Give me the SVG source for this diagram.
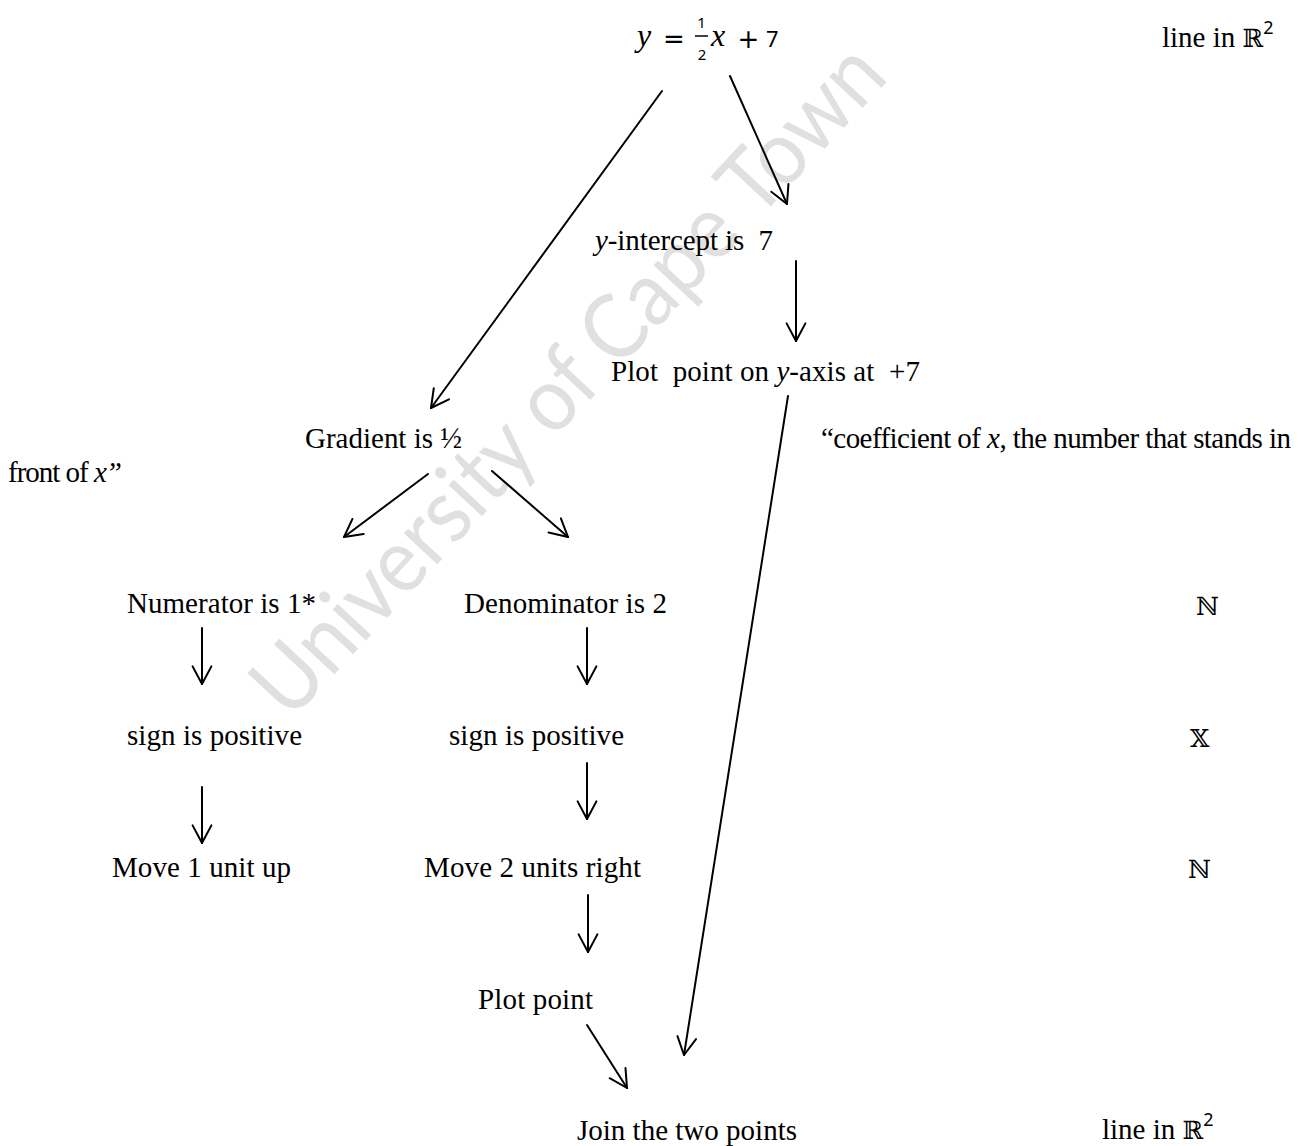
<svg xmlns="http://www.w3.org/2000/svg" width="1308" height="1146" viewBox="0 0 1308 1146">
<style>
.t{font-family:"Liberation Serif","Times New Roman",serif;font-size:29px;fill:#000;white-space:pre}
.i{font-style:italic}
.ds{font-family:"DejaVu Serif","DejaVu Sans",serif;font-size:25px;fill:#000}
.sup{font-family:"Noto Sans","Open Sans",sans-serif;font-size:18px;fill:#000}
.mi{font-family:"Liberation Serif",serif;font-style:italic;font-size:32px;fill:#000}
.mo{font-family:"DejaVu Sans",sans-serif;font-size:26px;fill:#000}
.md{font-family:"Noto Sans","Open Sans",sans-serif;fill:#000}
.wm{font-family:Lato,"Open Sans",sans-serif;font-size:90px;fill:#e0e0e0}
.c{stroke:#000;stroke-width:2;fill:none;stroke-linecap:round}
</style>
<defs>
<marker id="ah" markerUnits="userSpaceOnUse" markerWidth="24" markerHeight="24" viewBox="-20 -12 22 24" refX="0" refY="0" orient="auto">
<path d="M-17.6 -9.4 L0 0 L-17.6 9.4" fill="none" stroke="#000" stroke-width="2" stroke-linecap="round" stroke-linejoin="round"/>
</marker>
</defs>
<rect width="1308" height="1146" fill="#fff"/>
<g id="watermark">
<text class="wm" transform="translate(290 722) rotate(-47)" textLength="880" lengthAdjust="spacingAndGlyphs">University of Cape Town</text>
</g>
<g id="connectors">
<path class="c" marker-end="url(#ah)" d="M662 91 L431 408"/>
<path class="c" marker-end="url(#ah)" d="M730 76 L787 204"/>
<path class="c" marker-end="url(#ah)" d="M796 261 L796 341"/>
<path class="c" marker-end="url(#ah)" d="M788 396 L684 1055"/>
<path class="c" marker-end="url(#ah)" d="M428 474 L344 537"/>
<path class="c" marker-end="url(#ah)" d="M492 471 L568 537"/>
<path class="c" marker-end="url(#ah)" d="M202 628 L202 684"/>
<path class="c" marker-end="url(#ah)" d="M202 787 L202 843"/>
<path class="c" marker-end="url(#ah)" d="M587 628 L587 684"/>
<path class="c" marker-end="url(#ah)" d="M587 763 L587 819"/>
<path class="c" marker-end="url(#ah)" d="M588 895 L588 952"/>
<path class="c" marker-end="url(#ah)" d="M587 1025 L627 1088"/>
</g>
<g id="equation">
<text class="mi" x="637" y="46">y</text>
<text class="mo" x="674" y="48" text-anchor="middle">=</text>
<text class="md" x="701.5" y="28" font-size="15" text-anchor="middle">1</text>
<line x1="695" y1="36" x2="708" y2="36" stroke="#000" stroke-width="1.5"/>
<text class="md" x="702" y="60" font-size="15" text-anchor="middle">2</text>
<text class="mi" x="711" y="46">x</text>
<text class="mo" x="748.5" y="48" text-anchor="middle">+</text>
<text class="md" x="766" y="47" font-size="22">7</text>
</g>
<g id="line-top"><text class="t" x="1162" y="47">line in <tspan class="ds">ℝ</tspan><tspan class="sup" dy="-13">2</tspan></text></g>
<g id="y-intercept"><text class="t" x="595" y="250" textLength="178"><tspan class="i">y</tspan>-intercept is  7</text></g>
<g id="plot-y"><text class="t" x="611" y="381" textLength="309">Plot  point on <tspan class="i">y</tspan>-axis at  +7</text></g>
<g id="gradient"><text class="t" x="305" y="448" textLength="157">Gradient is ½</text></g>
<g id="coefficient-note">
<text class="t" x="821" y="448" textLength="470" lengthAdjust="spacing">“coefficient of <tspan class="i">x</tspan>, the number that stands in</text>
<text class="t" x="8" y="482" textLength="114">front of <tspan class="i">x”</tspan></text>
</g>
<g id="numerator"><text class="t" x="127" y="613" textLength="189">Numerator is 1*</text></g>
<g id="denominator"><text class="t" x="464" y="613" textLength="203">Denominator is 2</text></g>
<g id="n1"><text class="ds" x="1196" y="615">ℕ</text></g>
<g id="sign-left"><text class="t" x="127" y="745" textLength="175">sign is positive</text></g>
<g id="sign-right"><text class="t" x="449" y="745" textLength="175">sign is positive</text></g>
<g id="x1"><text class="ds" x="1190" y="747">𝕏</text></g>
<g id="move-up"><text class="t" x="112" y="877" textLength="179">Move 1 unit up</text></g>
<g id="move-right"><text class="t" x="424" y="877" textLength="217">Move 2 units right</text></g>
<g id="n2"><text class="ds" x="1188" y="878">ℕ</text></g>
<g id="plot-point"><text class="t" x="478" y="1009" textLength="115">Plot point</text></g>
<g id="join"><text class="t" x="577" y="1140" textLength="220">Join the two points</text></g>
<g id="line-bottom"><text class="t" x="1102" y="1139">line in <tspan class="ds">ℝ</tspan><tspan class="sup" dy="-13">2</tspan></text></g>
</svg>
